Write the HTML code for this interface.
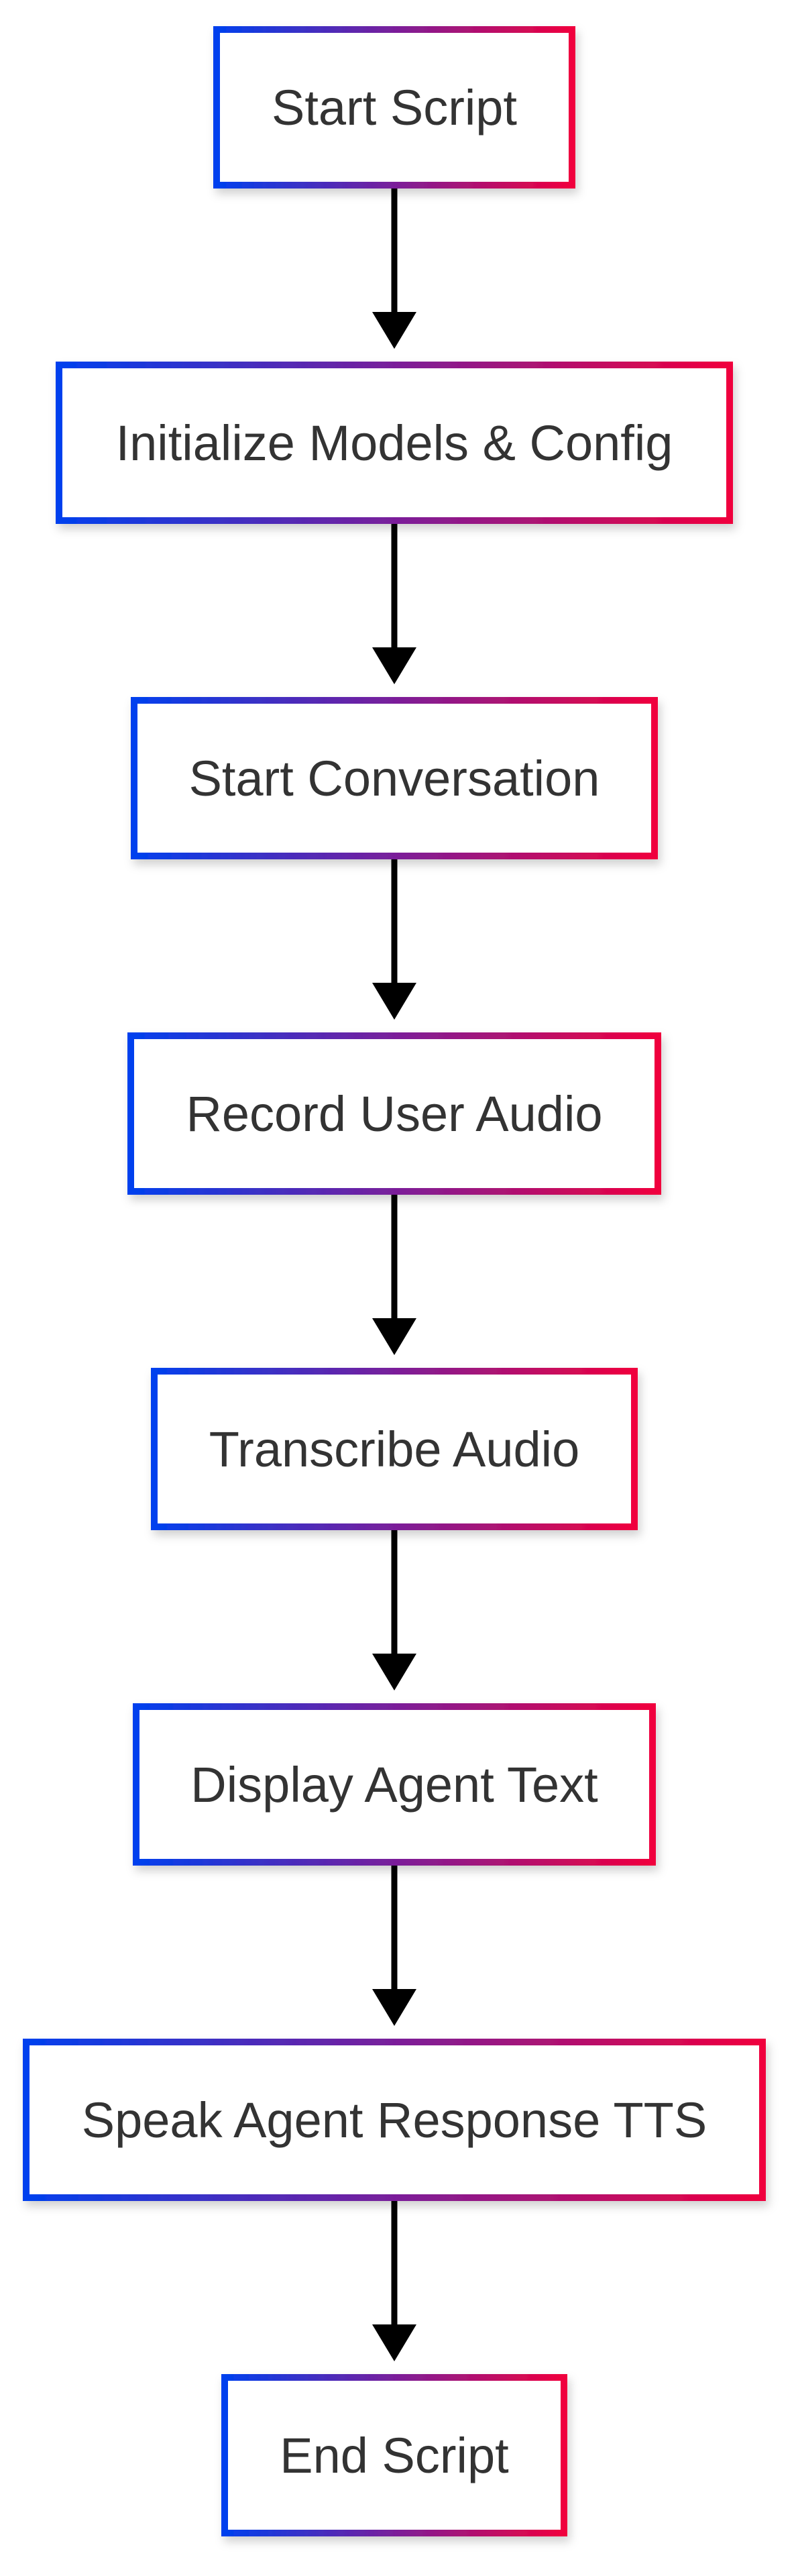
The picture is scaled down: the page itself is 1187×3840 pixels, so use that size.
<!DOCTYPE html>
<html><head><meta charset="utf-8"><style>
html,body{margin:0;padding:0;background:#fff;}
svg{display:block;}
text{font-family:"Liberation Sans",Arial,sans-serif;font-size:74px;fill:#333;}
</style></head><body>
<svg width="1187" height="3840" viewBox="0 0 1187 3840" xmlns="http://www.w3.org/2000/svg">
<defs>
<linearGradient id="g" x1="0" y1="0" x2="1" y2="0">
<stop offset="0" stop-color="#0040ee"/>
<stop offset="0.5" stop-color="#7a1f9a"/>
<stop offset="1" stop-color="#f0003e"/>
</linearGradient>
<filter id="sh" x="-10%" y="-10%" width="130%" height="140%">
<feDropShadow dx="4" dy="8" stdDeviation="7" flood-color="#000" flood-opacity="0.18"/>
</filter>
</defs>
<g transform="translate(-5,0)">
<rect x="328" y="44" width="530" height="232" fill="#fff" stroke="url(#g)" stroke-width="10" filter="url(#sh)"/>
<text x="593" y="186" text-anchor="middle">Start Script</text>

<rect x="93" y="544" width="1000" height="232" fill="#fff" stroke="url(#g)" stroke-width="10" filter="url(#sh)"/>
<text x="593" y="686" text-anchor="middle">Initialize Models &amp; Config</text>

<rect x="205" y="1044" width="776" height="232" fill="#fff" stroke="url(#g)" stroke-width="10" filter="url(#sh)"/>
<text x="593" y="1186" text-anchor="middle">Start Conversation</text>

<rect x="200" y="1544" width="786" height="232" fill="#fff" stroke="url(#g)" stroke-width="10" filter="url(#sh)"/>
<text x="593" y="1686" text-anchor="middle">Record User Audio</text>

<rect x="235" y="2044" width="716" height="232" fill="#fff" stroke="url(#g)" stroke-width="10" filter="url(#sh)"/>
<text x="593" y="2186" text-anchor="middle">Transcribe Audio</text>

<rect x="208" y="2544" width="770" height="232" fill="#fff" stroke="url(#g)" stroke-width="10" filter="url(#sh)"/>
<text x="593" y="2686" text-anchor="middle">Display Agent Text</text>

<rect x="44" y="3044" width="1098" height="232" fill="#fff" stroke="url(#g)" stroke-width="10" filter="url(#sh)"/>
<text x="593" y="3186" text-anchor="middle">Speak Agent Response TTS</text>

<rect x="340" y="3544" width="506" height="232" fill="#fff" stroke="url(#g)" stroke-width="10" filter="url(#sh)"/>
<text x="593" y="3686" text-anchor="middle">End Script</text>

<g fill="#000" stroke="#000">
<line x1="593" y1="281" x2="593" y2="470" stroke-width="9"/>
<polygon points="560,465 626,465 593,520" stroke="none"/>
<line x1="593" y1="781" x2="593" y2="970" stroke-width="9"/>
<polygon points="560,965 626,965 593,1020" stroke="none"/>
<line x1="593" y1="1281" x2="593" y2="1470" stroke-width="9"/>
<polygon points="560,1465 626,1465 593,1520" stroke="none"/>
<line x1="593" y1="1781" x2="593" y2="1970" stroke-width="9"/>
<polygon points="560,1965 626,1965 593,2020" stroke="none"/>
<line x1="593" y1="2281" x2="593" y2="2470" stroke-width="9"/>
<polygon points="560,2465 626,2465 593,2520" stroke="none"/>
<line x1="593" y1="2781" x2="593" y2="2970" stroke-width="9"/>
<polygon points="560,2965 626,2965 593,3020" stroke="none"/>
<line x1="593" y1="3281" x2="593" y2="3470" stroke-width="9"/>
<polygon points="560,3465 626,3465 593,3520" stroke="none"/>
</g>
</g>
</svg>
</body></html>
